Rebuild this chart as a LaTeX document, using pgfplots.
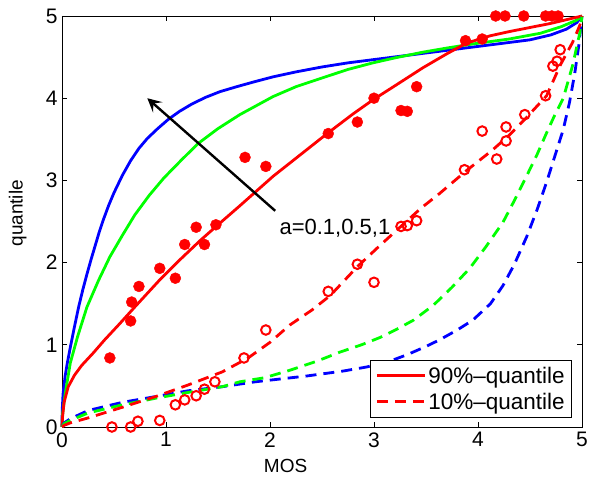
\documentclass[border=0pt]{standalone}
\usepackage{fontspec}
\setmainfont{Liberation Sans}
\usepackage{pgfplots}
\pgfplotsset{compat=1.18}
\usetikzlibrary{arrows.meta}

\definecolor{mred}{RGB}{255,0,0}
\definecolor{mgreen}{RGB}{0,255,0}
\definecolor{mblue}{RGB}{0,0,255}

\begin{document}
\begin{tikzpicture}
\begin{axis}[
  scale only axis,
  width=520pt, height=411pt,
  xmin=0, xmax=5, ymin=0, ymax=5,
  xtick={0,1,2,3,4,5}, ytick={0,1,2,3,4,5},
  tick align=inside,
  major tick length=5pt,
  axis line style={line width=0.8pt},
  tick style={line width=0.8pt, black},
  /pgf/number format/assume math mode=true,
  tick label style={font=\fontsize{21}{25}\selectfont},
  xticklabel style={yshift=-2pt},
  yticklabel style={xshift=-1pt},
  label style={font=\fontsize{19}{22}\selectfont},
  xlabel={MOS},
  ylabel={quantile},
  xlabel style={at={(axis description cs:0.43,-0.095)}, anchor=center},
  ylabel style={at={(axis description cs:-0.085,0.52)}, anchor=center},
  clip=false,
  legend style={at={(0.981,0.022)}, anchor=south east, draw=black, line width=0.8pt,
    fill=white, font=\fontsize{22.5}{25}\selectfont, inner xsep=5pt, inner ysep=5pt,
    row sep=4pt},
  legend cell align=left,
  legend image code/.code={\draw[#1] (0pt,0pt) -- (48pt,0pt);},
]
\coordinate (sw) at (rel axis cs:0,0);
\coordinate (ne) at (rel axis cs:1,1);

% solid curves (90% quantile)
\addplot[mblue, line width=2.8pt, forget plot] coordinates {
(0,0) (0.002,0.2) (0.01,0.4) (0.03,0.62) (0.05,0.77) (0.08,0.97) (0.12,1.22) (0.16,1.46)
(0.2,1.67) (0.24,1.86) (0.28,2.04) (0.32,2.21) (0.36,2.38) (0.4,2.53) (0.45,2.7) (0.5,2.85)
(0.58,3.06) (0.66,3.24) (0.74,3.39) (0.82,3.51) (0.92,3.63) (1.02,3.74) (1.13,3.84) (1.25,3.93)
(1.38,4.01) (1.52,4.08) (1.68,4.14) (1.85,4.2) (2.03,4.26) (2.25,4.32) (2.5,4.38) (2.75,4.43)
(3.0,4.47) (3.25,4.51) (3.5,4.55) (3.75,4.59) (4.0,4.63) (4.25,4.67) (4.5,4.71) (4.7,4.77)
(4.85,4.84) (4.95,4.92) (5,5)};
\addplot[mgreen, line width=2.8pt, forget plot] coordinates {
(0,0) (0.005,0.15) (0.03,0.4) (0.08,0.78) (0.15,1.1) (0.24,1.46) (0.35,1.78) (0.46,2.07)
(0.58,2.33) (0.7,2.58) (0.84,2.82) (0.98,3.03) (1.15,3.25) (1.31,3.45) (1.5,3.63) (1.71,3.8)
(2.03,4.02) (2.25,4.14) (2.51,4.25) (2.75,4.35) (2.99,4.43) (3.2,4.49) (3.47,4.56) (3.7,4.61)
(3.95,4.66) (4.3,4.72) (4.6,4.79) (4.8,4.87) (4.95,4.95) (5,5)};
\addplot[mred, line width=2.8pt, forget plot] coordinates {
(0,0) (0.005,0.12) (0.02,0.3) (0.06,0.49) (0.12,0.63) (0.19,0.75) (0.3,0.9) (0.41,1.06)
(0.55,1.25) (0.7,1.46) (0.94,1.79) (1.13,2.03) (1.33,2.27) (1.5,2.46) (1.7,2.68) (2.03,3.05)
(2.3,3.32) (2.55,3.57) (2.8,3.81) (2.99,3.98) (3.2,4.15) (3.47,4.37) (3.7,4.54) (3.89,4.67)
(4.12,4.76) (4.3,4.81) (4.5,4.86) (4.7,4.91) (4.9,4.97) (5,5)};

% dashed curves (10% quantile)
\addplot[mblue, line width=2.8pt, dash pattern=on 11pt off 7pt, forget plot] coordinates {
(0,0) (0.02,0.05) (0.08,0.1) (0.25,0.2) (0.58,0.3) (0.9,0.37) (1.21,0.44) (1.54,0.49)
(1.86,0.55) (2.35,0.62) (2.7,0.68) (2.93,0.73) (3.15,0.8) (3.32,0.88) (3.5,0.98) (3.63,1.06)
(3.8,1.18) (3.95,1.3) (4.12,1.5) (4.24,1.72) (4.35,1.98) (4.47,2.32) (4.57,2.65) (4.66,2.98)
(4.74,3.3) (4.82,3.62) (4.88,3.95) (4.93,4.3) (4.97,4.65) (5,5)};
\addplot[mgreen, line width=2.8pt, dash pattern=on 11pt off 7pt, forget plot] coordinates {
(0,0) (0.02,0.04) (0.08,0.08) (0.25,0.17) (0.58,0.27) (0.9,0.35) (1.21,0.42) (1.54,0.49)
(1.71,0.55) (1.95,0.6) (2.19,0.69) (2.45,0.8) (2.67,0.91) (2.88,1.0) (3.06,1.09) (3.22,1.19)
(3.38,1.3) (3.57,1.48) (3.75,1.7) (3.92,1.93) (4.08,2.2) (4.24,2.49) (4.36,2.78) (4.47,3.06)
(4.57,3.32) (4.66,3.58) (4.74,3.8) (4.82,4.0) (4.91,4.4) (4.98,4.8) (5,5)};
\addplot[mred, line width=2.8pt, dash pattern=on 11pt off 7pt, forget plot] coordinates {
(0,0) (0.02,0.02) (0.08,0.05) (0.25,0.11) (0.58,0.24) (0.9,0.37) (1.21,0.51) (1.54,0.67)
(1.79,0.84) (2.0,1.03) (2.19,1.24) (2.4,1.42) (2.58,1.6) (2.84,1.95) (3.05,2.2) (3.25,2.43)
(3.45,2.66) (3.63,2.84) (3.89,3.12) (4.14,3.37) (4.3,3.55) (4.47,3.77) (4.66,4.03) (4.79,4.4)
(4.91,4.68) (4.98,4.89) (5,5)};

% measured 90% quantiles
\addplot[only marks, mark=*, mark size=5.5pt, mred, mark options={fill=mred, draw=mred}, forget plot] coordinates {
(0.46,0.84) (0.66,1.29) (0.67,1.52) (0.74,1.71) (0.94,1.93) (1.09,1.81) (1.18,2.22)
(1.29,2.43) (1.37,2.22) (1.48,2.46) (1.76,3.28) (1.96,3.17) (2.56,3.57) (2.84,3.71)
(3.0,4.0) (3.26,3.85) (3.32,3.84) (3.41,4.14) (3.88,4.70) (4.04,4.72)
(4.17,5) (4.26,5) (4.44,5) (4.65,5) (4.71,5) (4.77,5)};

% measured 10% quantiles
\addplot[only marks, mark=o, mark size=4.8pt, mred, line width=2pt, forget plot] coordinates {
(0.48,0.0) (0.66,0.0) (0.73,0.07) (0.94,0.08) (1.09,0.27) (1.18,0.33) (1.29,0.38)
(1.37,0.46) (1.47,0.55) (1.75,0.84) (1.96,1.18) (2.56,1.65) (2.84,1.98) (3.0,1.76)
(3.26,2.44) (3.32,2.45) (3.41,2.51) (3.87,3.13) (4.04,3.6) (4.18,3.26) (4.27,3.48)
(4.27,3.65) (4.45,3.80) (4.65,4.03) (4.72,4.39) (4.76,4.45) (4.79,4.59)};

\addlegendimage{mred, line width=2.8pt}
\addlegendentry{90\%--quantile}
\addlegendimage{mred, line width=2.8pt, dash pattern=on 11pt off 7pt}
\addlegendentry{10\%--quantile}

\draw[black, line width=2.4pt, -{Stealth[length=14pt,width=14pt,inset=6pt]}] (axis cs:2.05,2.63) -- (axis cs:0.82,4.0);
\node[anchor=west, font=\fontsize{22}{26}\selectfont, inner sep=0pt] at (axis cs:2.09,2.42) {a=0.1,0.5,1};
\end{axis}
\pgfresetboundingbox
\path ([xshift=-62pt,yshift=-51pt]sw) rectangle ([xshift=15pt,yshift=16pt]ne);
\end{tikzpicture}
\end{document}
